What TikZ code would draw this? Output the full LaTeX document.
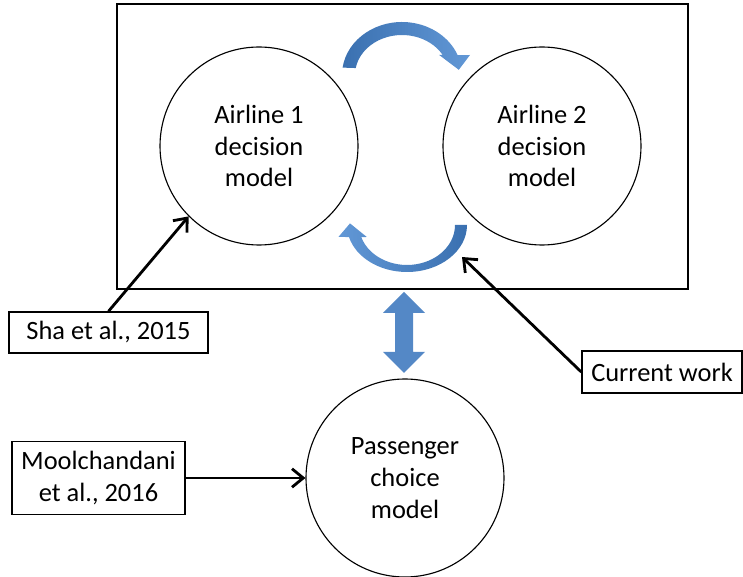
\documentclass[tikz,border=0pt]{standalone}
\usepackage{fontspec}
\setmainfont{Carlito}
\usetikzlibrary{arrows.meta}
\definecolor{flowdark}{RGB}{58,112,176}
\definecolor{flowlight}{RGB}{98,152,214}
\definecolor{flowmid}{RGB}{84,136,198}

\begin{document}
\begin{tikzpicture}[
    model/.style={circle, draw, line width=0.8pt, minimum size=4.95cm, inner sep=0pt, align=center},
    ref/.style={draw, line width=1pt, inner sep=0pt, align=center},
    frame/.style={draw, line width=1.1pt, inner sep=0pt},
    cite/.style={line width=2pt, -{Straight Barb[length=2.8mm,width=4.6mm]}},
    font=\fontsize{18.8}{22.7}\selectfont
  ]
  \useasboundingbox (0,0) rectangle (18.575,14.425);
  % game between the two airlines
  \node[frame, minimum width=14.275cm, minimum height=7.125cm] (duo) at (10.0625,10.7625) {};
  \node[model] (a1) at (6.475,10.775) {Airline 1\\decision\\model};
  \node[model] (a2) at (13.55,10.775) {Airline 2\\decision\\model};
  % passenger side
  \node[model] (pc) at (10.125,2.475) {Passenger\\choice\\model};
  % literature boxes
  \node[ref, minimum width=4.975cm, minimum height=1.025cm] (sha) at (2.7125,6.1125) {Sha et al., 2015};
  \node[ref, minimum width=4.0cm, minimum height=1.05cm] (cur) at (16.55,5.125) {Current work};
  \node[ref, minimum width=4.325cm, minimum height=1.825cm] (mool) at (2.4625,2.475) {Moolchandani\\et al., 2016};
  % curved arrows between the airlines
  \coordinate (tc) at (10.05,12.55);
  \coordinate (bc) at (10.175,8.8);
  \shade[left color=flowdark, right color=flowlight]
    ([shift={(172:1.5 and 1.325)}]tc) arc[start angle=172, end angle=22, x radius=1.5, y radius=1.325]
    -- (11.75,13.05) -- (11.47,12.68) -- (10.98,13.05)
    -- ([shift={(30:1.175 and 1.0)}]tc) arc[start angle=30, end angle=170, x radius=1.175, y radius=1.0]
    -- cycle;
  \shade[left color=flowlight, right color=flowdark]
    ([shift={(0:1.5 and 1.175)}]bc) arc[start angle=360, end angle=194.8, x radius=1.5, y radius=1.175]
    -- (8.46,8.5) -- (8.75,8.84) -- (9.17,8.5)
    -- ([shift={(197.5:1.2 and 1.0)}]bc) arc[start angle=197.5, end angle=360, x radius=1.2, y radius=1.0]
    -- cycle;
  % two-way link to the passenger model
  \fill[flowmid] (10.1,7.125) -- (10.625,6.6) -- (10.325,6.6) -- (10.325,5.625) -- (10.625,5.625)
    -- (10.1,5.1) -- (9.575,5.625) -- (9.875,5.625) -- (9.875,6.6) -- (9.575,6.6) -- cycle;
  % pointers
  \coordinate (loop) at (11.55,8.0);
  \draw[cite] (sha.north) -- (a1.225);
  \draw[cite] (cur.west) -- (loop);
  \draw[cite] (mool.east) -- (pc.west);
\end{tikzpicture}
\end{document}
